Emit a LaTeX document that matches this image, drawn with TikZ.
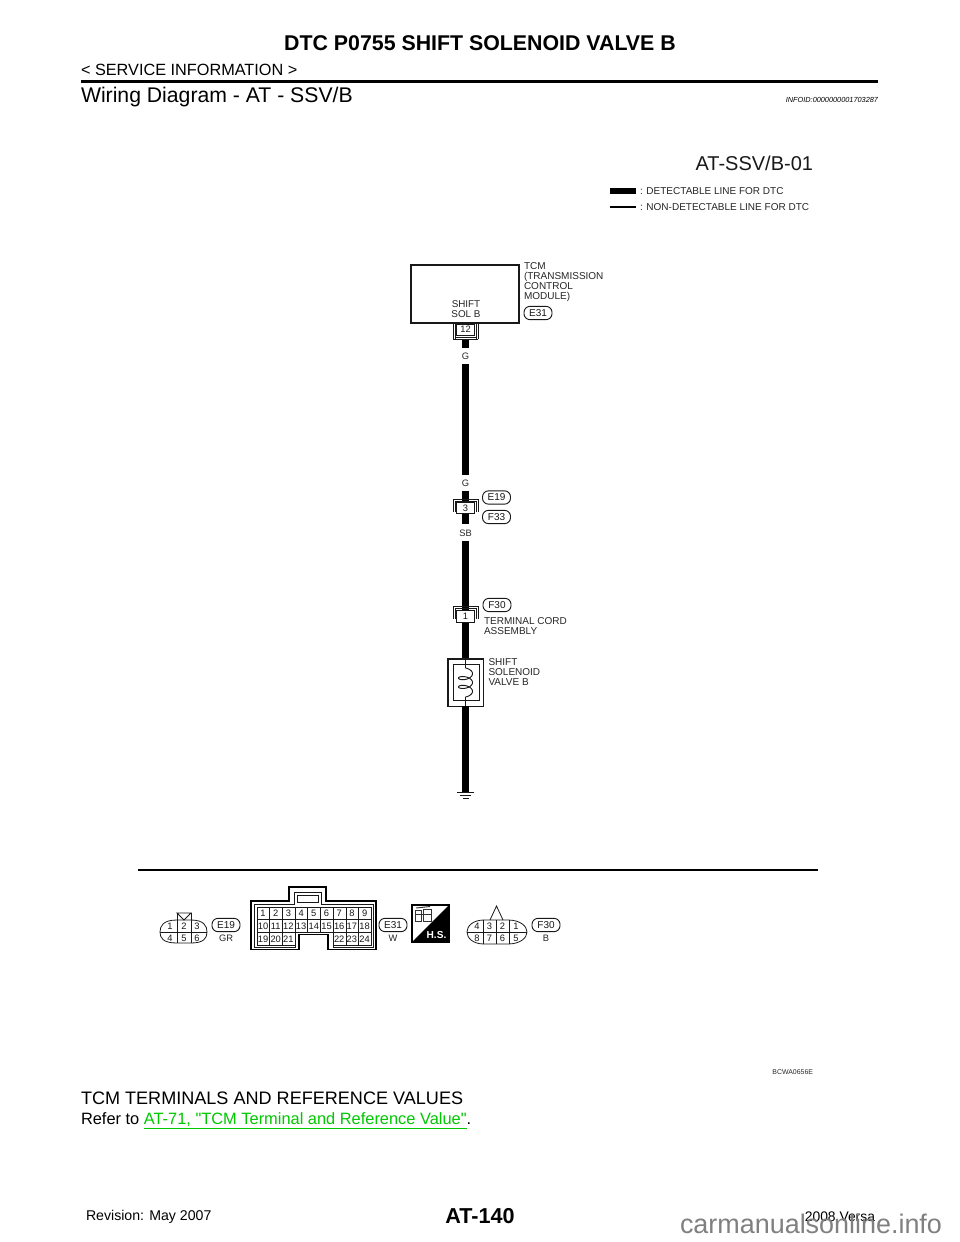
\documentclass[tikz,border=0pt]{standalone}
\usepackage{fontspec}
\setmainfont{Liberation Sans}
\newfontfamily\plainfam{Liberation Sans}

\newcommand{\fs}[1]{\fontsize{#1}{#1}\selectfont}

\begin{document}
\begin{tikzpicture}
                        [
                            x=0.75pt, y=-0.75pt,
                            every node/.style = {inner sep=0pt, outer sep=0pt},
                            label/.style = {anchor=west, align=left, text=black!85, font=\fs{7.5}, execute at begin node=\setlength{\baselineskip}{7.5pt}},
                            wirelabel/.style = {text=black!85, font=\fs{7}},
                            pin/.style = {text=black!90, font=\fs{7}},
                            harness/.style = {draw=black!90, rounded corners=4.5pt, line width=0.7pt, minimum width=21pt, minimum height=10pt, text=black!90, font=\fs{7.5}},
                            terminal/.style = {draw=black!90, fill=white, line width=0.6pt, minimum width=13pt, minimum height=8.6pt, text=black!90, font=\fs{7}},
                            bracket/.style = {draw=black!90, line width=0.6pt},
                            wire/.style = {line width=5.2pt, draw=black},
                            thin/.style = {line width=0.6pt, draw=black!90},
                        ]

                        \useasboundingbox (0,0) rectangle (960,1242);
                        \fill[white] (0,0) rectangle (960,1242);

                        % page header
                        \node[font=\bfseries\fs{16}] (title) at (480,43.5) {DTC P0755 SHIFT SOLENOID VALVE B};
                        \node[anchor=west, font=\fs{12.2}] (section) at (81,70) {< SERVICE INFORMATION >};
                        \coordinate (ruleL) at (81,81.5);
                        \coordinate (ruleR) at (878,81.5);
                        \draw[line width=1.6pt] (ruleL) -- (ruleR);
                        \node[anchor=west, font=\fs{15.9}] (heading) at (81,97.5) {Wiring Diagram - AT - SSV/B};
                        \node[anchor=east, font=\itshape\fs{5.5}] (infoid) at (878,99.5) {INFOID:0000000001703287};

                        % legend
                        \node[anchor=east, text=black!90, font=\fs{15}] (code) at (813,163) {AT-SSV/B-01};
                        \coordinate (leg1a) at (610,191);
                        \coordinate (leg1b) at (636,191);
                        \coordinate (leg2a) at (610,207);
                        \coordinate (leg2b) at (636,207);
                        \draw[line width=3.8pt] (leg1a) -- (leg1b);
                        \draw[line width=2.2pt] (leg2a) -- (leg2b);
                        \node[label] (leg1) at (640,191.5) {: DETECTABLE LINE FOR DTC};
                        \node[label] (leg2) at (640,207.5) {: NON-DETECTABLE LINE FOR DTC};

                        % TCM
                        \node[draw=black!90, line width=1pt, minimum width=81pt, minimum height=43.5pt, anchor=north west] (tcm) at (411,265) {};
                        \node[label] (tcmtxt) at (524,282) {TCM\\(TRANSMISSION\\CONTROL\\MODULE)};
                        \node[harness] (e31) at (538,313) {E31};
                        \node[wirelabel, font=\fs{7.4}, align=center, execute at begin node=\setlength{\baselineskip}{7.4pt}] (shiftsol) at (466,309.5) {SHIFT\\SOL B};
                        \node[terminal, anchor=north] (t12) at (465.5,324) {12};
                        \draw[bracket] (453,339) -- (453,324);
                        \draw[bracket] (455,339) -- (455,324);
                        \draw[bracket] (478,339) -- (478,324);
                        \draw[bracket] (476,339) -- (476,324);
                        \draw[bracket] (453,339) -- (478,339);
                        \draw[bracket] (455,337) -- (476,337);

                        % harness
                        \node[wirelabel] (g1) at (465.5,356) {G};
                        \node[wirelabel] (g2) at (465.5,483) {G};
                        \node[wirelabel] (sb) at (465.5,533) {SB};
                        \draw[wire] (465.5,339.5) -- (465.5,347.5);
                        \draw[wire] (465.5,364) -- (465.5,474.5);

                        % E19 F33 joint
                        \coordinate (j3top) at (465.5,491);
                        \coordinate (j3bot) at (465.5,524);
                        \draw[wire] (j3top) -- (j3bot);
                        \node[terminal] (t3) at (465.5,508) {3};
                        \draw[bracket] (453,512) -- (453,499) -- (478,499) -- (478,512);
                        \draw[bracket] (455,512) -- (455,501) -- (476,501) -- (476,512);
                        \node[harness] (e19) at (496.5,497.5) {E19};
                        \node[harness] (f33) at (496.5,517) {F33};

                        % F30 terminal
                        \coordinate (j1top) at (465.5,541);
                        \coordinate (j1bot) at (465.5,659);
                        \draw[wire] (j1top) -- (j1bot);
                        \node[terminal] (t1) at (465.5,616.5) {1};
                        \draw[bracket] (453,619) -- (453,606) -- (478,606) -- (478,619);
                        \draw[bracket] (455,619) -- (455,608) -- (476,608) -- (476,619);
                        \node[harness] (f30) at (497,605) {F30};
                        \node[label] (cordtxt) at (484,626) {TERMINAL CORD\\ASSEMBLY};

                        % solenoid
                        \node[draw=black!90, line width=1pt, minimum width=26.5pt, minimum height=35.5pt, anchor=north west] (solout) at (448,659) {};
                        \node[draw=black!90, line width=0.7pt, minimum width=19.5pt, minimum height=27.5pt, anchor=north west] (solin) at (453,664) {};
                        \coordinate (coiltop) at (465.5,668);
                        \coordinate (coilbot) at (465.5,697);
                        \draw[thin] (solout.north -| coiltop) -- (coiltop);
                        \draw[thin] (coilbot) -- (solout.south -| coilbot);
                        \draw[line width=0.7pt, draw=black!90] plot[smooth, domain=0:900, samples=101, variable=\t] ({465.5+7*sin(\t)},{668+\t/900*22+3.5*(1-cos(\t))});
                        \node[label] (soltxt) at (488.5,672) {SHIFT\\SOLENOID\\VALVE B};

                        % ground
                        \coordinate (gnd) at (465.5,792);
                        \draw[wire] (solout.south -| gnd) -- (gnd);
                        \draw[thin] (457,792) -- (474,792);
                        \draw[thin] (460,795) -- (471,795);
                        \draw[thin] (463,798) -- (469,798);

                        % separator
                        \coordinate (sepL) at (138,870);
                        \coordinate (sepR) at (818,870);
                        \draw[line width=1.5pt] (sepL) -- (sepR);

                        % connector E19
                        \draw[thin] (177,920) .. controls (163,920) and (160,926) .. (160,932) .. controls (160,938) and (163,943) .. (177,943) -- (191,943) .. controls (204,943) and (207,938) .. (207,932) .. controls (207,926) and (204,920) .. (191,920) -- cycle;
                        \draw[thin] (177,913) -- (191,913) -- (184,920) -- cycle;
                        \draw[thin] (177,913) -- (177,943);
                        \draw[thin] (191,913) -- (191,943);
                        \draw[thin] (160,932) -- (207,932);
                        \foreach \n/\x/\y in {1/170/926, 2/184/926, 3/197/926, 4/170/938, 5/184/938, 6/197/938}
                            \node[pin] (p19\n) at (\x,\y) {\n};
                        \node[harness] (e19b) at (226,925) {E19};
                        \node[wirelabel] (e19col) at (226,938) {GR};

                        % connector E31
                        \draw[line width=1pt] (251,901) -- (289,901) -- (289,887) -- (326,887) -- (326,901) -- (376,901) -- (376,949.5) -- (328,949.5) -- (328,934.5) -- (299,934.5) -- (299,949.5) -- (251,949.5) -- cycle;
                        \draw[thin] (254.5,904.5) -- (294,904.5) -- (294,892) -- (321,892) -- (321,904.5) -- (373,904.5) -- (373,947) -- (333,947) -- (333,932.6) -- (295,932.6) -- (295,947) -- (254.5,947) -- cycle;
                        \draw[thin] (297,895) rectangle (318,902);
                        \foreach \i in {0,...,8}
                            \foreach \j in {0,1}
                                \draw[thin] (257+12.7*\i,907+12.8*\j) rectangle ++(12.7,12.8);
                        \foreach \i in {0,1,2,6,7,8}
                            \draw[thin] (257+12.7*\i,932.6) rectangle ++(12.7,12.4);
                        \foreach \n [evaluate=\n as \xx using {263+12.7*(\n-1)}] in {1,...,9}
                            \node[pin] (pa\n) at (\xx,913.5) {\n};
                        \foreach \n [evaluate=\n as \xx using {263+12.7*(\n-10)}] in {10,...,18}
                            \node[pin] (pb\n) at (\xx,926.3) {\n};
                        \foreach \n [evaluate=\n as \xx using {263+12.7*(\n-19)}] in {19,20,21}
                            \node[pin] (pc\n) at (\xx,939) {\n};
                        \foreach \n [evaluate=\n as \xx using {339.2+12.7*(\n-22)}] in {22,23,24}
                            \node[pin] (pc\n) at (\xx,939) {\n};
                        \node[harness] (e31b) at (393,925) {E31};
                        \node[wirelabel] (e31col) at (393,938) {W};

                        % harness symbol
                        \draw[line width=1pt] (412,905) rectangle (449,942);
                        \fill[black] (449,905) -- (449,942) -- (412,942) -- cycle;
                        \draw[line width=0.7pt, black!80] (415,910) rectangle (421,921);
                        \draw[line width=0.7pt, black!80] (423,909) rectangle (431,921);
                        \draw[line width=0.7pt, black!80] (416,908) -- (430,906.5);
                        \draw[line width=0.7pt, black!80] (415,914) -- (431,914);
                        \node[text=white, font=\bfseries\fs{7.6}] (hs) at (436.5,934.5) {H.S.};

                        % connector F30
                        \draw[thin] (484,920) -- (508,920) .. controls (520,920) and (527,926) .. (527,932) .. controls (527,938) and (520,944) .. (508,944) -- (484,944) .. controls (473,944) and (467,938) .. (467,932) .. controls (467,926) and (473,920) .. (484,920) -- cycle;
                        \draw[thin] (490,920) -- (496.5,906) -- (503,920);
                        \draw[thin] (467,932) -- (527,932);
                        \foreach \x in {483,496,509}
                            \draw[thin] (\x,920) -- (\x,944);
                        \foreach \n/\x/\y in {4/477/926, 3/489.5/926, 2/502.5/926, 1/516/926, 8/477/938, 7/489.5/938, 6/502.5/938, 5/516/938}
                            \node[pin] (p30\n) at (\x,\y) {\n};
                        \node[harness] (f30b) at (546,925) {F30};
                        \node[wirelabel] (f30col) at (546,938) {B};

                        % page footer
                        \node[anchor=east, text=black!85, font=\fs{5.2}] (figid) at (813,1072) {BCWA0656E};
                        \node[anchor=west, font=\fs{13.55}] (sub) at (81,1098) {TCM TERMINALS AND REFERENCE VALUES};
                        \node[anchor=west, font=\fs{12.3}] (refer) at (81,1120.5) {Refer to \textcolor[RGB]{0,200,0}{\underline{AT-71, {\plainfam"}TCM Terminal and Reference Value{\plainfam"}}}.};
                        \node[anchor=west, font=\fs{10.6}] (rev) at (86,1217) {Revision: May 2007};
                        \node[font=\bfseries\fs{16.2}] (page) at (480,1216) {AT-140};
                        \node[anchor=east, font=\fs{10.4}] (ver) at (875,1217) {2008 Versa};
                        \node[anchor=base west, text=black!50, font=\fs{20.2}] (mark) at (680,1233) {carmanualsonline.info};
                    \end{tikzpicture}
\end{document}
